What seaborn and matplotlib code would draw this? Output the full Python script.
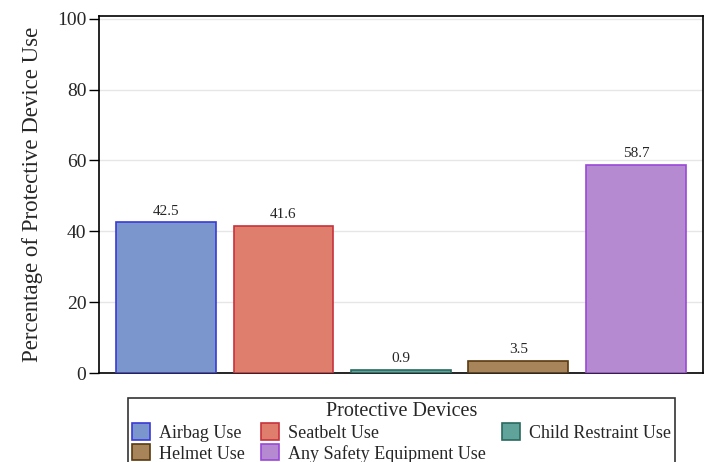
import numpy as np
import pandas as pd
import seaborn as sns
import matplotlib.pyplot as plt
from matplotlib.patches import Patch

devices = ['Airbag Use', 'Seatbelt Use', 'Child Restraint Use', 'Helmet Use', 'Any Safety Equipment Use']
pct = [42.5, 41.6, 0.9, 3.5, 58.7]
fills = ['#7b96cc', '#e07e6e', '#5fa39a', '#a8845a', '#b58ad0']
edges = ['#3a3ad8', '#c8323c', '#2a6a60', '#5a3a10', '#9a48d8']

df = pd.DataFrame({'device': devices, 'pct': pct})

sns.set_theme(style='white')
plt.rcParams['font.family'] = ['Liberation Serif', 'DejaVu Serif']

fig = plt.figure(figsize=(7.1, 4.62), dpi=100)
ax = fig.add_axes([0.1394, 0.1926, 0.8506, 0.7728])

sns.barplot(data=df, x='device', y='pct', hue='device', palette=fills,
            width=0.85, saturation=1, legend=False, ax=ax, zorder=3)
for bar, ec in zip(ax.patches, edges):
    bar.set_edgecolor(ec)
    bar.set_linewidth(1.2)
    bar.set_alpha(1)

for i, v in enumerate(pct):
    ax.text(i, v + 1.4, f'{v:.1f}', ha='center', va='bottom', fontsize=11)

ax.set_xlim(-0.57, 4.57)
ax.set_ylim(0, 100.8)
ax.set_yticks([0, 20, 40, 60, 80, 100])
ax.set_xticks([])
ax.set_xlabel('')
ax.set_ylabel('Percentage of Protective Device Use', fontsize=16.5, labelpad=10)
ax.tick_params(axis='y', labelsize=14, length=7, width=1, direction='out', left=True, color='black', pad=2)
ax.yaxis.grid(True, color='#e6e6e6', linewidth=1, zorder=0)
ax.set_axisbelow(True)
for s in ['top', 'right', 'left', 'bottom']:
    ax.spines[s].set_color('black')
    ax.spines[s].set_linewidth(1.2)

# legend laid out row by row: reorder for column-major filling
order = [0, 3, 1, 4, 2]
handles = [Patch(facecolor=fills[i], edgecolor=edges[i], linewidth=1.2) for i in order]
labels = [devices[i] for i in order]
leg = fig.legend(handles, labels, title='Protective Devices', ncol=3,
                 loc='upper center', bbox_to_anchor=(0.5655, 0.158),
                 fontsize=13, title_fontsize=14.5, frameon=True, fancybox=False,
                 edgecolor='black', handlelength=1.0, handleheight=1.0,
                 handletextpad=0.5, columnspacing=0.9, labelspacing=0.15,
                 borderpad=0.2)
leg.get_frame().set_linewidth(1.2)

fig.savefig('out.png', dpi=100)
